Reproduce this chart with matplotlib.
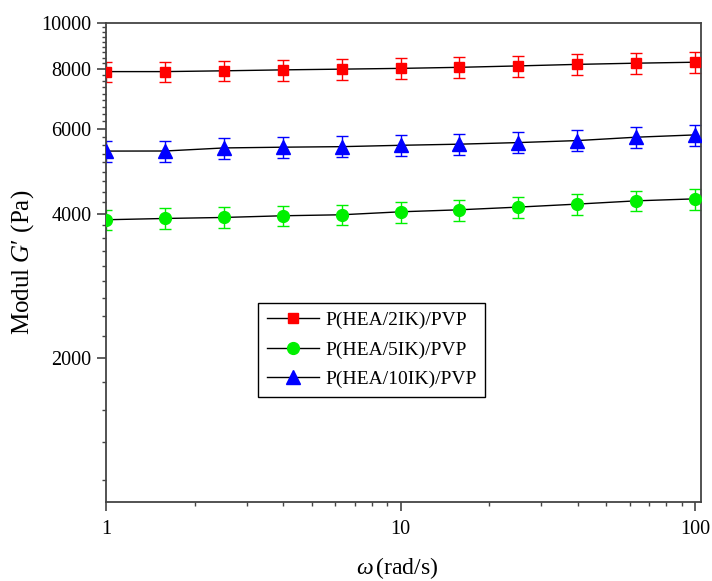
import numpy as np
import matplotlib
matplotlib.use("Agg")
import matplotlib.pyplot as plt
from matplotlib.ticker import FixedLocator, NullFormatter, LogLocator

plt.rcParams['font.family'] = ['Liberation Serif', 'DejaVu Serif']
plt.rcParams['mathtext.fontset'] = 'custom'
plt.rcParams['mathtext.rm'] = 'Liberation Serif'
plt.rcParams['mathtext.it'] = 'Liberation Serif:italic'

## angular frequency (rad/s), 5 points per decade
omega = [1, 1.585, 2.512, 3.981, 6.310, 10, 15.85, 25.12, 39.81, 63.10, 100]

## storage modulus G' (Pa) and standard deviations
g_2ik = [7906, 7906, 7936, 7972, 8000, 8029, 8070, 8125, 8185, 8232, 8270]
err_2ik = [390, 390, 395, 398, 400, 402, 404, 406, 410, 412, 415]

g_5ik = [3882, 3906, 3925, 3957, 3976, 4033, 4072, 4125, 4185, 4251, 4292]
err_5ik = [194, 195, 196, 198, 199, 202, 204, 206, 209, 212, 215]

g_10ik = [5398, 5400, 5480, 5500, 5514, 5550, 5580, 5623, 5677, 5770, 5834]
err_10ik = [270, 270, 274, 275, 276, 278, 279, 281, 284, 288, 292]

labels = ['P(HEA/2IK)/PVP', 'P(HEA/5IK)/PVP', 'P(HEA/10IK)/PVP']

fig = plt.figure(figsize=(7.12, 5.81), dpi=100)
ax = fig.add_axes([0.1489, 0.1355, 0.8357, 0.8255])

series = [
    (g_2ik, err_2ik, '#ff0000', 's', 7.5),
    (g_5ik, err_5ik, '#00f000', 'o', 8.5),
    (g_10ik, err_10ik, '#0000ff', '^', 9.5),
]
for (vals, errs, col, mk, ms), lab in zip(series, labels):
    ax.errorbar(omega, vals, yerr=errs, fmt='none', ecolor=col,
                elinewidth=1, capsize=4.5, capthick=1, zorder=2)
    ax.plot(omega, vals, color='black', lw=1, marker=mk, markersize=ms,
            markerfacecolor=col, markeredgecolor=col, label=lab, zorder=3)

ax.set_xscale('log')
ax.set_yscale('log')
ax.set_xlim(1, 104.8)
ax.set_ylim(1000, 10000)

## y minor ticks every 2000/9 Pa
ax.yaxis.set_major_locator(FixedLocator([2000, 4000, 6000, 8000, 10000]))
ax.yaxis.set_major_formatter(plt.FuncFormatter(lambda v, p: '%d' % v))
minor_y = [k * 2000 / 9 for k in range(1, 46) if k % 9 != 0]
ax.yaxis.set_minor_locator(FixedLocator([v for v in minor_y if 1000 < v < 10000]))
ax.yaxis.set_minor_formatter(NullFormatter())

ax.xaxis.set_major_locator(FixedLocator([1, 10, 100]))
ax.xaxis.set_major_formatter(plt.FuncFormatter(lambda v, p: '%d' % v))
ax.xaxis.set_minor_locator(LogLocator(base=10, subs=np.arange(2, 10)))
ax.xaxis.set_minor_formatter(NullFormatter())

for sp in ax.spines.values():
    sp.set_linewidth(1.3)
    sp.set_color('#444444')

ax.tick_params(which='major', direction='out', length=6.5, width=1.2,
               color='#444444', labelsize=14.5, pad=4)
ax.tick_params(axis='x', which='major', pad=6)
ax.tick_params(which='minor', direction='out', length=3, width=1.0,
               color='#444444')

ax.set_xlabel(r'$\omega\,$(rad/s)', fontsize=17, va='center')
ax.xaxis.set_label_coords(0.49, -0.137)
ax.set_ylabel("Modul $G$′ (Pa)", fontsize=18, va='center')
ax.yaxis.set_label_coords(-0.141, 0.5)

leg = ax.legend(loc='upper left', bbox_to_anchor=(0.2555, 0.416),
                borderaxespad=0, fontsize=14, fancybox=False, framealpha=1,
                edgecolor='black', handlelength=2.7, labelspacing=0.6,
                handletextpad=0.3, borderpad=0.45)
leg.get_frame().set_linewidth(1.0)

fig.savefig('out.png', dpi=100)
